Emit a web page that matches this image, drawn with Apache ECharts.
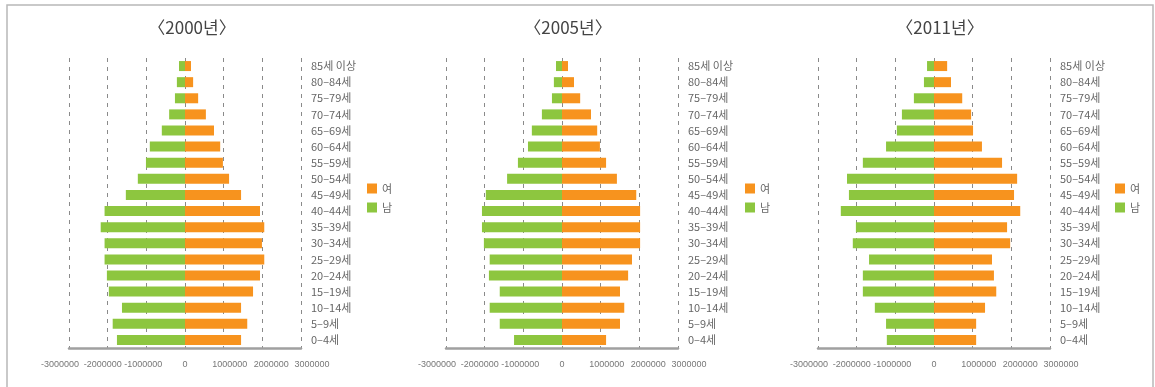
<!DOCTYPE html>
<html>
<head>
<meta charset="utf-8">
<script src="https://cdn.jsdelivr.net/npm/echarts@6/dist/echarts.min.js"></script>
<style>
  html, body { margin: 0; padding: 0; background: #fff; }
  #chart { width: 1155px; height: 387px; }
</style>
</head>
<body>
<div id="chart"></div>
<script>
// 연령대 (위에서 아래로)
const ageGroups = ['85세 이상', '80–84세', '75–79세', '70–74세', '65–69세', '60–64세', '55–59세', '50–54세',
    '45–49세', '40–44세', '35–39세', '30–34세', '25–29세', '20–24세', '15–19세', '10–14세', '5–9세', '0–4세'];
const years = ['〈2000년〉', '〈2005년〉', '〈2011년〉'];
const xTicks = [-3000000, 3000000, 1000000]; // min, max, interval

// 남자 인구
const male2000 = [155000, 210000, 260000, 410000, 600000, 910000, 1010000, 1220000, 1530000,
    2080000, 2180000, 2080000, 2080000, 2020000, 1970000, 1630000, 1870000, 1760000];
const male2005 = [155000, 210000, 260000, 520000, 780000, 880000, 1140000, 1420000, 1970000,
    2070000, 2070000, 2020000, 1870000, 1890000, 1610000, 1870000, 1610000, 1240000];
const male2011 = [180000, 260000, 520000, 830000, 960000, 1240000, 1840000, 2250000, 2200000,
    2410000, 2020000, 2100000, 1680000, 1840000, 1840000, 1530000, 1240000, 1220000];
// 여자 인구
const female2000 = [155000, 210000, 340000, 540000, 750000, 910000, 980000, 1140000, 1450000,
    1940000, 2050000, 1990000, 2050000, 1940000, 1760000, 1450000, 1610000, 1450000];
const female2005 = [155000, 310000, 470000, 750000, 910000, 980000, 1140000, 1420000, 1920000,
    2020000, 2020000, 2020000, 1810000, 1710000, 1500000, 1610000, 1500000, 1140000];
const female2011 = [340000, 440000, 730000, 960000, 1010000, 1240000, 1760000, 2150000, 2070000,
    2230000, 1890000, 1970000, 1500000, 1550000, 1610000, 1320000, 1090000, 1090000];

const maleList = [male2000, male2005, male2011];
const femaleList = [female2000, female2005, female2011];

(function () {
    const my_echart = echarts.init(document.getElementById('chart'));
    const font = '"Noto Sans CJK KR", "Noto Sans", sans-serif';
    const tickFont = '"Liberation Sans", Arial, sans-serif';
    const panels = [
        { left: 69, zero: 187, legend: 362 },
        { left: 446, zero: 563, legend: 740 },
        { left: 818, zero: 935, legend: 1110 }
    ];
    const plotW = 232;

    // 원본처럼 눈금 라벨을 바깥쪽으로 조금씩 벌림
    const tickRich = {
        m3: { padding: [0, 18, 0, 0] },
        m2: { padding: [0, 10, 0, 0] },
        m1: { padding: [0, 6, 0, 0] },
        z: {},
        p1: { padding: [0, 0, 0, 12] },
        p2: { padding: [0, 0, 0, 18] },
        p3: { padding: [0, 0, 0, 22] }
    };
    const tickKey = { '-3000000': 'm3', '-2000000': 'm2', '-1000000': 'm1', '0': 'z',
        '1000000': 'p1', '2000000': 'p2', '3000000': 'p3' };

    let title = [], grid = [], xAxis = [], yAxis = [], legend = [], series = [];
    panels.forEach(function (p, i) {
        title.push({
            text: years[i],
            left: p.zero,
            top: 14,
            textAlign: 'center',
            textStyle: { fontFamily: font, fontSize: 17, fontWeight: 'normal', color: '#444' }
        });
        grid.push({ left: p.left, top: 58, width: plotW, height: 290 });
        xAxis.push({
            type: 'value',
            gridIndex: i,
            min: xTicks[0],
            max: xTicks[1],
            interval: xTicks[2],
            axisLine: { show: true, onZero: false, lineStyle: { color: '#a0a0a0', width: 2.5 } },
            axisTick: { show: false },
            axisLabel: {
                margin: 12,
                fontFamily: tickFont,
                fontSize: 9,
                color: '#777',
                showMinLabel: true,
                showMaxLabel: true,
                hideOverlap: false,
                rich: tickRich,
                formatter: function (v) {
                    const k = tickKey[String(v)] || 'z';
                    return '{' + k + '|' + v + '}';
                }
            },
            splitLine: { show: true, lineStyle: { color: '#8a8a8a', type: [4, 5], width: 1 } }
        });
        yAxis.push({
            type: 'category',
            gridIndex: i,
            position: 'right',
            inverse: true,
            data: ageGroups,
            axisLine: { show: false },
            axisTick: { show: false },
            axisLabel: { interval: 0, margin: 10, fontFamily: font, fontSize: 11, color: '#666' }
        });
        legend.push({
            data: ['여', '남'],
            orient: 'vertical',
            left: p.legend,
            top: 178,
            itemWidth: 10,
            itemHeight: 10,
            itemGap: 8,
            icon: 'rect',
            textStyle: { fontFamily: font, fontSize: 11, color: '#666' }
        });
        series.push({
            name: '여',
            type: 'bar',
            xAxisIndex: i,
            yAxisIndex: i,
            barWidth: 10,
            barGap: '-100%',
            itemStyle: { color: '#f7931e' },
            data: femaleList[i]
        });
        series.push({
            name: '남',
            type: 'bar',
            xAxisIndex: i,
            yAxisIndex: i,
            barWidth: 10,
            barGap: '-100%',
            itemStyle: { color: '#8dc63f' },
            data: maleList[i].map(function (v) { return -v; }) //남자는 왼쪽
        });
    });

    let option = {
        backgroundColor: '#fff',
        animation: false,
        title: title,
        grid: grid,
        xAxis: xAxis,
        yAxis: yAxis,
        legend: legend,
        series: series,
        graphic: [{
            type: 'rect',
            silent: true,
            shape: { x: 7, y: 5, width: 1146, height: 420 },
            style: { fill: 'none', stroke: '#b8b8b8', lineWidth: 1.5 }
        }]
    };
    my_echart.setOption(option);
    window.addEventListener('resize', function () {
        my_echart.resize();
    });
})();
</script>
</body>
</html>
